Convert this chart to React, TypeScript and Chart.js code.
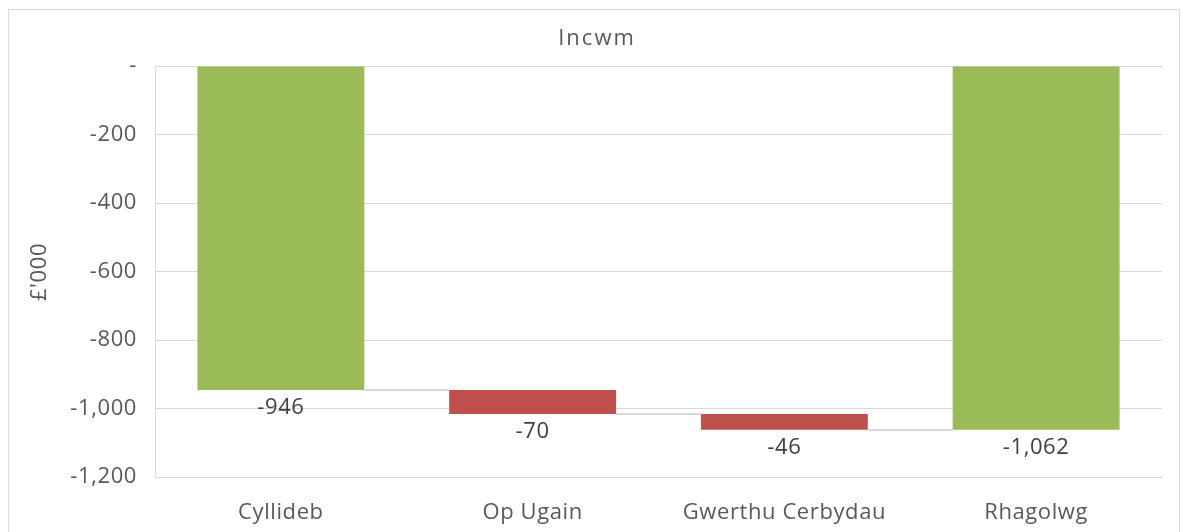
import React, { useEffect, useRef } from "react";
import { Chart, registerables } from "chart.js";

Chart.register(...registerables);

const title = "Incwm";
const yTitle = "£'000";
const categories = ["Cyllideb", "Op Ugain", "Gwerthu Cerbydau", "Rhagolwg"];
const deltas = [-946, -70, -46, -1062];
const isTotal = [true, false, false, true];
const yMin = -1200;
const yMax = 0;
const yStep = 200;

const GREEN = "#9BBB59";
const RED = "#C0504D";
const GRID = "#d9d9d9";
const TEXT = "#595959";
const LABEL = "#404040";
const FONT = "'Open Sans', sans-serif";
const FSIZE = 22;

function buildRanges() {
  const ranges: [number, number][] = [];
  let running = 0;
  deltas.forEach((d, i) => {
    if (isTotal[i]) {
      ranges.push([0, d]);
      running = d;
    } else {
      ranges.push([running, running + d]);
      running = running + d;
    }
  });
  return ranges;
}

const fmt = (v: number) => (v === 0 ? "-" : v.toLocaleString("en-US"));

export default function App() {
  const ref = useRef<HTMLCanvasElement | null>(null);
  useEffect(() => {
    if (!ref.current) return;
    const ranges = buildRanges();
    const spacing = {
      id: "spacing",
      beforeDraw(chart: any) {
        (chart.ctx as any).letterSpacing = "0.6px";
      },
    };
    const overlay = {
      id: "waterfallOverlay",
      afterDatasetsDraw(chart: any) {
        const ctx = chart.ctx;
        const meta = chart.getDatasetMeta(0);
        const ys = chart.scales.y;
        ctx.save();
        // connectors
        ctx.strokeStyle = GRID;
        ctx.lineWidth = 2;
        for (let i = 0; i < ranges.length - 1; i++) {
          const a = meta.data[i];
          const b = meta.data[i + 1];
          const y = Math.round(ys.getPixelForValue(ranges[i][1]));
          ctx.beginPath();
          ctx.moveTo(a.x + a.width / 2, y);
          ctx.lineTo(b.x - b.width / 2, y);
          ctx.stroke();
        }
        // value labels
        ctx.fillStyle = LABEL;
        ctx.font = `${FSIZE}px ${FONT}`;
        ctx.textAlign = "center";
        ctx.textBaseline = "middle";
        (ctx as any).letterSpacing = "0.6px";
        ranges.forEach((r, i) => {
          const el = meta.data[i];
          const bottom = ys.getPixelForValue(Math.min(r[0], r[1]));
          ctx.fillText(fmt(deltas[i]), el.x, bottom + 18);
        });
        // chart title
        ctx.fillStyle = TEXT;
        (ctx as any).letterSpacing = "2px";
        ctx.fillText(title, chart.width / 2 + 3, 29);
        // y title
        (ctx as any).letterSpacing = "0.6px";
        ctx.translate(31, 262);
        ctx.rotate(-Math.PI / 2);
        ctx.fillText(yTitle, 0, 0);
        ctx.restore();
      },
      afterDraw(chart: any) {
        (chart.ctx as any).letterSpacing = "0px";
      },
    };
    const chart = new Chart(ref.current, {
      type: "bar",
      data: {
        labels: categories,
        datasets: [
          {
            data: ranges as any,
            backgroundColor: isTotal.map((t) => (t ? GREEN : RED)),
            barPercentage: 0.663,
            categoryPercentage: 1,
            borderSkipped: false,
          },
        ],
      },
      options: {
        animation: false,
        responsive: false,
        maintainAspectRatio: false,
        layout: { padding: { top: 56, right: 17, left: 0, bottom: 0 } },
        plugins: {
          legend: { display: false },
          title: { display: false },
          tooltip: { enabled: false },
        },
        scales: {
          x: {
            grid: { display: false, drawTicks: false },
            border: { display: false },
            ticks: { color: TEXT, font: { family: FONT, size: FSIZE }, padding: 23, maxRotation: 0 },
            afterFit(scale: any) {
              scale.height = 71;
            },
          },
          y: {
            min: yMin,
            max: yMax,
            grid: { color: GRID, lineWidth: 1, drawTicks: false },
            border: { display: true, color: GRID, width: 1 },
            ticks: {
              stepSize: yStep,
              color: TEXT,
              font: { family: FONT, size: FSIZE },
              padding: 18,
              callback: (v: any) => fmt(Number(v)),
            },
            afterFit(scale: any) {
              scale.width = 146;
            },
          },
        },
      },
      plugins: [spacing, overlay],
    });
    return () => chart.destroy();
  }, []);

  return (
    <div style={{ position: "fixed", left: 0, top: 0, width: 1182, height: 532, overflow: "hidden", background: "#fff" }}>
      <div
        style={{
          position: "absolute",
          left: 8,
          top: 9,
          width: 1170,
          height: 538,
          border: `1px solid ${GRID}`,
        }}
      >
        <canvas ref={ref} width={1170} height={538} style={{ display: "block", width: 1170, height: 538 }} />
      </div>
    </div>
  );
}
